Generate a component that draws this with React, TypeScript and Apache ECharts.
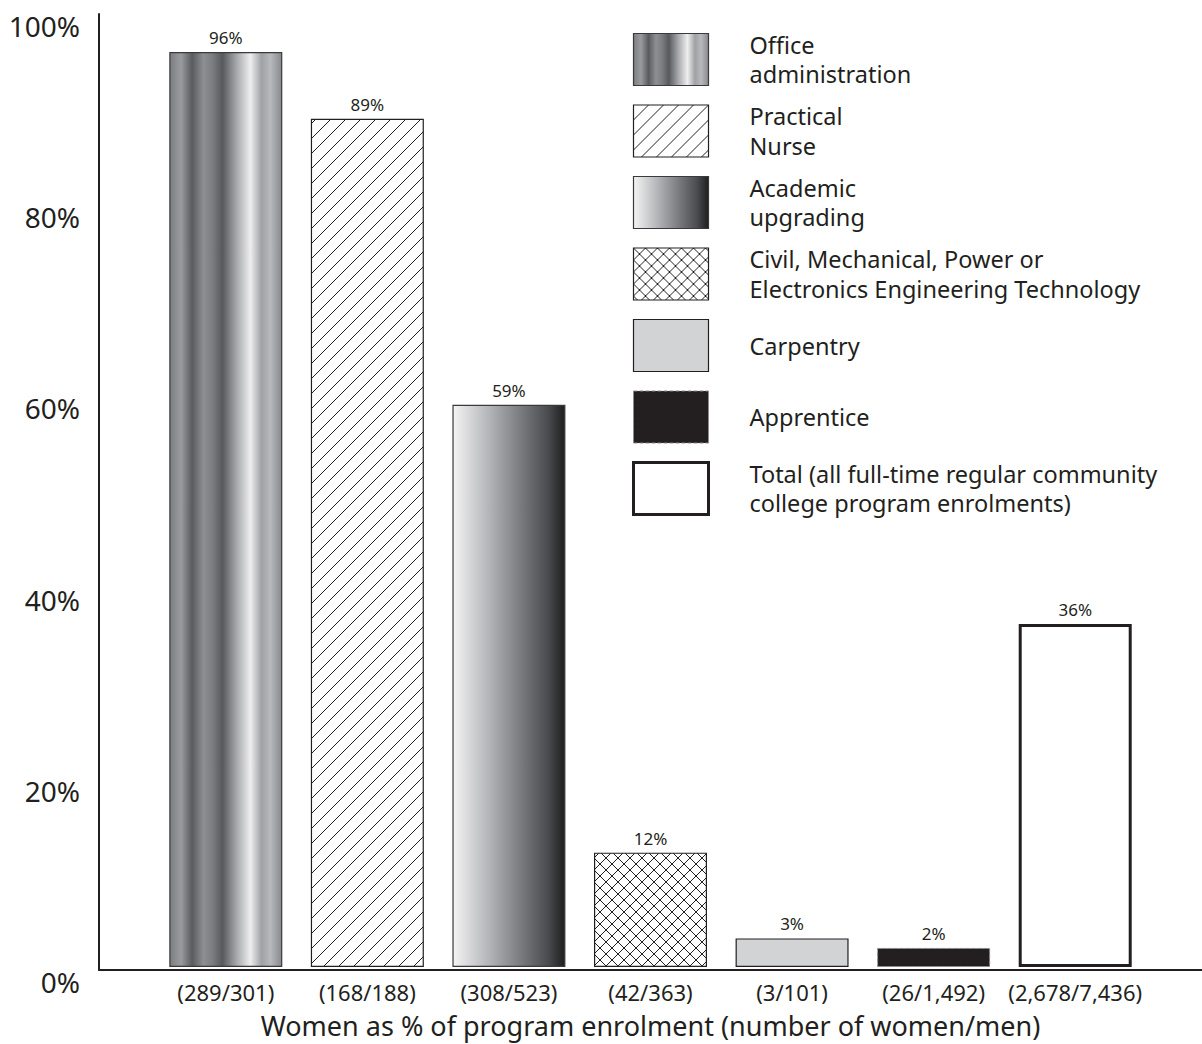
import React, { useEffect, useRef } from "react";
import * as echarts from "echarts";

const categories = ["(289/301)", "(168/188)", "(308/523)", "(42/363)", "(3/101)", "(26/1,492)", "(2,678/7,436)"];
const programs = [
  "Office administration",
  "Practical Nurse",
  "Academic upgrading",
  "Civil, Mechanical, Power or Electronics Engineering Technology",
  "Carpentry",
  "Apprentice",
  "Total (all full-time regular community college program enrolments)",
];
const legendLabels = [
  "Office\nadministration",
  "Practical\nNurse",
  "Academic\nupgrading",
  "Civil, Mechanical, Power or\nElectronics Engineering Technology",
  "Carpentry",
  "Apprentice",
  "Total (all full-time regular community\ncollege program enrolments)",
];
const womenPct = [96, 89, 59, 12, 3, 2, 36];
const xAxisTitle = "Women as % of program enrolment (number of women/men)";

const INK = "#231f20";
const FONT = "'Noto Sans', 'Open Sans', sans-serif";

function hatch(size: number, cross: boolean, lw: number) {
  const c = document.createElement("canvas");
  c.width = size;
  c.height = size;
  const ctx = c.getContext("2d")!;
  ctx.fillStyle = "#ffffff";
  ctx.fillRect(0, 0, size, size);
  ctx.strokeStyle = "#231f20";
  ctx.lineWidth = lw;
  ctx.beginPath();
  ctx.moveTo(-2, size + 2);
  ctx.lineTo(size + 2, -2);
  ctx.moveTo(-2, 2);
  ctx.lineTo(2, -2);
  ctx.moveTo(size - 2, size + 2);
  ctx.lineTo(size + 2, size - 2);
  if (cross) {
    ctx.moveTo(-2, -2);
    ctx.lineTo(size + 2, size + 2);
    ctx.moveTo(size - 2, -2);
    ctx.lineTo(size + 2, 2);
    ctx.moveTo(-2, size - 2);
    ctx.lineTo(2, size + 2);
  }
  ctx.stroke();
  return { image: c, repeat: "repeat", imageWidth: size, imageHeight: size } as any;
}

function buildStyles() {
  const office = new echarts.graphic.LinearGradient(0, 0, 1, 0, [
    { offset: 0, color: "#7d7e82" },
    { offset: 0.1, color: "#9a9b9e" },
    { offset: 0.2, color: "#5a5b5e" },
    { offset: 0.3, color: "#8e8f93" },
    { offset: 0.38, color: "#7c7d80" },
    { offset: 0.47, color: "#58595c" },
    { offset: 0.6, color: "#a9aaad" },
    { offset: 0.72, color: "#eeeeef" },
    { offset: 0.82, color: "#a0a1a4" },
    { offset: 0.9, color: "#b8b9bc" },
    { offset: 1, color: "#88898c" },
  ]);
  const academic = new echarts.graphic.LinearGradient(0, 0, 1, 0, [
    { offset: 0, color: "#f4f4f4" },
    { offset: 0.3, color: "#b8b9bc" },
    { offset: 0.6, color: "#7b7c7f" },
    { offset: 0.85, color: "#4a4b4e" },
    { offset: 1, color: "#1e1e20" },
  ]);
  return [
    { color: office, borderColor: "#3a3a3c", borderWidth: 1.2 },
    { color: hatch(15, false, 1), borderColor: INK, borderWidth: 1.2 },
    { color: academic, borderColor: "#3a3a3c", borderWidth: 1.2 },
    { color: hatch(12, true, 1), borderColor: INK, borderWidth: 1.2 },
    { color: "#d1d3d4", borderColor: INK, borderWidth: 1.2 },
    { color: INK, borderColor: "#8a8a8a", borderWidth: 1, borderType: "dashed" },
    { color: "#ffffff", borderColor: INK, borderWidth: 3 },
  ];
}

export default function App() {
  const ref = useRef<HTMLDivElement>(null);
  useEffect(() => {
    document.body.style.margin = "0";
    const chart = echarts.init(ref.current!, null, { renderer: "svg" });
    const styles = buildStyles();
    const series = programs.map((name, i) => ({
      name,
      type: "bar",
      xAxisIndex: 1,
      yAxisIndex: 1,
      barWidth: 113,
      barGap: "-100%",
      data: womenPct.map((v, j) => (j === i ? v : "-")),
      itemStyle: styles[i],
      label: {
        show: true,
        position: "top",
        distance: 6,
        formatter: "{c}%",
        fontFamily: FONT,
        fontSize: 17,
        color: INK,
      },
    }));
    chart.setOption({
      animation: false,
      backgroundColor: "#ffffff",
      textStyle: { fontFamily: FONT, color: INK },
      grid: [
        { left: 99, right: 0, top: 14, bottom: 74 },
        { left: 155, right: 56, top: 14, bottom: 74 },
      ],
      xAxis: [
        {
          type: "value",
          gridIndex: 0,
          min: 0,
          max: 1,
          axisLine: { show: true, lineStyle: { color: INK, width: 2 } },
          axisTick: { show: false },
          axisLabel: { show: false },
          splitLine: { show: false },
        },
        {
          type: "category",
          gridIndex: 1,
          data: categories,
          axisLine: { show: false },
          axisTick: { show: false },
          axisLabel: { interval: 0, fontFamily: FONT, fontSize: 22, color: INK, margin: 14 },
          name: xAxisTitle,
          nameLocation: "middle",
          nameGap: 45,
          nameTextStyle: { fontFamily: FONT, fontSize: 27, color: INK },
        },
      ],
      yAxis: [
        {
          type: "value",
          gridIndex: 0,
          min: 0,
          max: 100,
          interval: 20,
          axisLine: { show: true, lineStyle: { color: INK, width: 2 } },
          axisTick: { show: false },
          splitLine: { show: false },
          axisLabel: {
            formatter: "{value}%",
            fontFamily: FONT,
            fontSize: 28,
            lineHeight: 24,
            verticalAlign: "top",
            color: INK,
            margin: 19,
          },
        },
        {
          type: "value",
          gridIndex: 1,
          min: 0,
          max: 100,
          show: false,
          splitLine: { show: false },
        },
      ],
      legend: {
        orient: "vertical",
        left: 632,
        top: 30,
        padding: 0,
        itemWidth: 75,
        itemHeight: 52,
        itemGap: 12.5,
        icon: "rect",
        selectedMode: false,
        formatter: (name: string) => legendLabels[programs.indexOf(name)],
        textStyle: { fontFamily: FONT, fontSize: 23.5, lineHeight: 29.5, color: INK },
        data: programs.map((name, i) => ({
          name,
          icon: "rect",
          itemStyle: {
            color: styles[i].color,
            borderColor: styles[i].borderColor,
            borderWidth: styles[i].borderWidth,
            borderType: (styles[i] as any).borderType || "solid",
          },
          textStyle: {
            padding: legendLabels[i].includes("\n") ? [0, 0, 0, 36] : [14.75, 0, 14.75, 36],
          },
        })),
      },
      series,
    });
    return () => chart.dispose();
  }, []);
  return <div ref={ref} style={{ width: 1202, height: 1044 }} />;
}
